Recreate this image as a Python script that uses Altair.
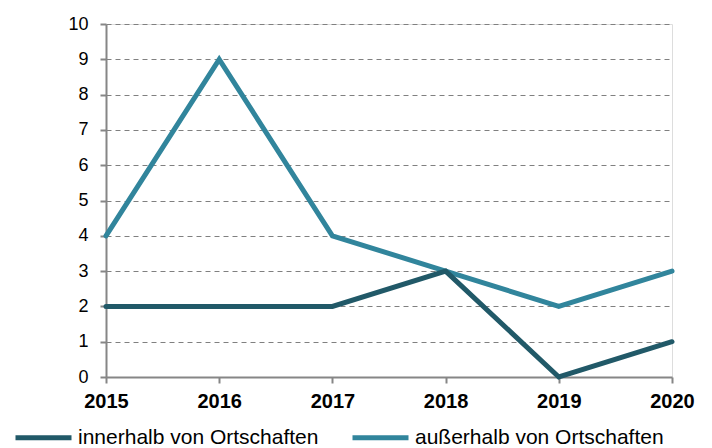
import altair as alt
import pandas as pd

years = ["2015", "2016", "2017", "2018", "2019", "2020"]
innerhalb = [2, 2, 2, 3, 0, 1]
ausserhalb = [4, 9, 4, 3, 2, 3]
series_names = ["innerhalb von Ortschaften", "außerhalb von Ortschaften"]
colors = ["#215968", "#31859C"]

rows = []
for name, vals in [(series_names[1], ausserhalb), (series_names[0], innerhalb)]:
    for y, v in zip(years, vals):
        rows.append({"Jahr": y, "Wert": v, "Serie": name})
df = pd.DataFrame(rows)

FONT = "Liberation Sans"

chart = alt.Chart(df).mark_line(strokeWidth=5, strokeCap="round", strokeJoin="miter").encode(
    x=alt.X("Jahr:O", sort=years,
            scale=alt.Scale(type="point", padding=0),
            axis=alt.Axis(title=None, labelAngle=0, labelFontWeight="bold",
                          labelFontSize=20, labelFont=FONT, labelColor="#000000",
                          tickSize=6, tickColor="#868686", tickWidth=2,
                          domainColor="#868686", domainWidth=2, labelPadding=8,
                          grid=False)),
    y=alt.Y("Wert:Q", scale=alt.Scale(domain=[0, 10], nice=False),
            axis=alt.Axis(title=None, values=list(range(0, 11)), labelFontSize=18,
                          labelFont=FONT, labelColor="#000000",
                          tickSize=6, tickColor="#868686", tickWidth=2,
                          domainColor="#868686", domainWidth=2, labelPadding=12,
                          grid=True, gridColor="#808080", gridDash=[5, 4],
                          gridWidth=1)),
    color=alt.Color("Serie:N",
                    scale=alt.Scale(domain=series_names, range=colors),
                    legend=alt.Legend(title=None, orient="none", direction="horizontal",
                                      columns=2, legendX=-93, legendY=383, padding=0,
                                      symbolType="stroke", symbolSize=3136,
                                      symbolStrokeWidth=5, labelFontSize=21,
                                      labelFont=FONT, labelColor="#000000",
                                      labelOffset=4, columnPadding=23,
                                      labelLimit=400)),
    order=alt.Order("Serie:N"),
).properties(
    width=566, height=353,
    autosize=alt.AutoSizeParams(type="none"),
    padding={"left": 98, "top": 16, "right": 30, "bottom": 80},
).configure_view(stroke=None).configure(font=FONT)

chart.save("out.html", embed_options={"renderer": "svg", "actions": False})
